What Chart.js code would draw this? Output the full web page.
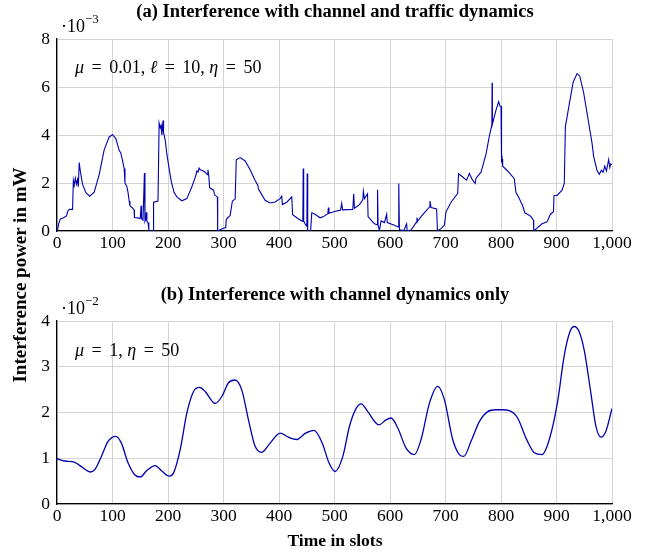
<!DOCTYPE html>
<html>
<head>
<meta charset="utf-8">
<script src="https://cdn.jsdelivr.net/npm/chart.js@4.4.1/dist/chart.umd.min.js"></script>
<style>
  html, body { margin: 0; padding: 0; background: #fff; }
  #page { position: relative; width: 655px; height: 557px; overflow: hidden; font-family: "Liberation Serif", "DejaVu Serif", serif; color: #000; }
  canvas { position: absolute; left: 0; }
  .txt { position: absolute; white-space: nowrap; }
  .title { font-weight: bold; font-size: 18.5px; left: 0; width: 670px; text-align: center; }
  .mult { font-size: 18px; }
  .mult sup { font-size: 13px; position: relative; top: -2px; }
  .note { font-size: 18px; }
  .note i { font-style: italic; }
  .note .eq { padding: 0 7.5px; }
</style>
</head>
<body>
<div id="page">
  <canvas id="topChart" width="655" height="262" style="top:0"></canvas>
  <canvas id="bottomChart" width="655" height="255" style="top:280px"></canvas>

  <div class="txt title" style="top:1px">(a) Interference with channel and traffic dynamics</div>
  <div class="txt title" style="top:284px">(b) Interference with channel dynamics only</div>
  <div class="txt title" style="top:530px; font-size:17.5px">Time in slots</div>
  <div class="txt title" style="left:-315px; top:264px; width:670px; transform:rotate(-90deg); font-size:19px">Interference power in mW</div>

  <div class="txt mult" style="left:61px; top:13px">·10<sup>−3</sup></div>
  <div class="txt mult" style="left:61px; top:295px">·10<sup>−2</sup></div>

  <div class="txt note" style="left:75px; top:57px"><i>μ</i><span class="eq">=</span>0.01, <i>ℓ</i><span class="eq">=</span>10, <i>η</i><span class="eq">=</span>50</div>
  <div class="txt note" style="left:75px; top:340px"><i>μ</i><span class="eq">=</span>1, <i>η</i><span class="eq">=</span>50</div>
</div>

<script>
// (a) channel + traffic: slot index and interference power (x 1e-3 mW)
const slotsA = [
  0, 1, 3, 6, 12, 17, 20, 23, 28, 29.5, 31, 33, 35, 37, 38.5, 40, 42, 46, 52, 59,
  67, 76, 85, 94, 100, 106, 112, 115, 118, 121, 122.5, 126, 128, 130, 131.5, 135, 139, 139.5, 150, 151.5,
  152.5, 155, 157.5, 158.5, 160, 161, 162, 164, 165.5, 167, 173, 174, 182, 184, 186, 187.5, 189, 191, 192, 195,
  198, 202, 206, 211, 216, 225, 234, 243, 250, 252, 254, 256, 258, 262, 267, 271, 272, 273.5, 275, 282,
  284, 289, 289.5, 294, 299, 304, 305, 312, 316, 321, 323, 330, 339, 348, 357, 362, 363, 366, 375, 384,
  393, 402, 405, 406, 414, 423, 424.5, 432, 441, 443, 443.6, 444.5, 448, 450.2, 450.8, 451.5, 452, 457, 459, 465,
  474, 480, 488, 489, 490, 505, 511, 513, 514.5, 533, 534.6, 536, 545, 551, 552, 554, 559.5, 560.5, 566, 572,
  577, 577.6, 578.5, 581, 584, 590, 594, 595, 608, 615, 615.8, 617, 625, 630, 631, 638, 647, 648.5, 649.5, 656,
  665, 671, 672, 674, 684, 685.5, 692, 698, 701, 710, 722, 723.5, 731, 738, 743, 748, 753.5, 755, 764, 773,
  779, 783.5, 784, 784.5, 791, 795.7, 798, 800, 801, 802, 803, 812, 824, 827, 833, 836, 839, 843, 848, 854,
  858.5, 859, 865, 874, 883, 889, 894.5, 895.5, 901, 910, 914, 916, 922, 930, 937, 942, 949, 958, 964, 967,
  973, 977, 981, 984, 987, 990, 994, 996, 998, 1000
];
const powerA = [
  0.0, 0.05, 0.3, 0.5, 0.55, 0.63, 0.85, 0.9, 0.9, 2.1, 1.9, 2.2, 1.95, 2.15, 1.85, 2.85, 2.5, 1.95, 1.6, 1.45,
  1.62, 2.35, 3.38, 3.92, 4.01, 3.85, 3.36, 3.25, 2.94, 2.6, 2.0, 1.85, 1.6, 1.25, 1.05, 0.98, 0.88, 0.56, 0.53, 1.05,
  0.5, 0.45, 2.42, 0.4, 0.5, 0.78, 0.4, 0.35, 0.05, 0.0, 0.0, 1.2, 1.25, 4.5, 4.3, 4.4, 4.0, 4.6, 4.1, 3.78,
  3.2, 2.6, 2.05, 1.6, 1.42, 1.26, 1.35, 1.84, 2.3, 2.5, 2.45, 2.62, 2.55, 2.52, 2.45, 2.35, 2.55, 2.3, 1.8, 1.7,
  1.5, 1.42, 0.0, 0.05, 0.1, 0.14, 0.49, 0.65, 1.25, 1.33, 2.97, 3.06, 2.92, 2.55, 2.1, 1.9, 1.75, 1.63, 1.28, 1.17,
  1.21, 1.35, 1.45, 1.1, 1.2, 1.42, 0.68, 0.55, 0.42, 0.4, 2.6, 0.42, 0.25, 0.2, 2.4, 0.05, 0.0, 0.0, 0.76, 0.7,
  0.55, 0.6, 0.72, 0.98, 0.74, 0.84, 0.87, 1.15, 0.88, 0.9, 1.55, 0.95, 1.1, 1.3, 1.66, 1.35, 1.55, 0.6, 0.45, 0.3,
  0.26, 1.72, 0.22, 0.04, 0.42, 0.35, 0.7, 0.35, 0.24, 0.17, 1.98, 0.05, 0.02, 0.3, 0.0, 0.04, 0.35, 0.56, 0.4, 0.6,
  0.84, 1.0, 1.25, 0.98, 0.92, 0.0, 0.1, 0.25, 0.8, 1.2, 1.57, 2.38, 2.25, 2.12, 2.4, 2.15, 1.98, 2.2, 2.45, 3.2,
  3.95, 4.42, 6.18, 4.45, 5.04, 5.39, 5.21, 5.2, 2.85, 3.0, 2.7, 2.5, 2.18, 1.6, 1.35, 1.2, 1.06, 0.75, 0.7, 0.6,
  0.45, 0.0, 0.12, 0.3, 0.38, 0.7, 0.8, 1.48, 1.48, 1.7, 1.98, 4.35, 5.15, 6.2, 6.56, 6.45, 5.75, 4.5, 3.66, 3.1,
  2.53, 2.36, 2.53, 2.45, 2.7, 2.5, 2.98, 2.65, 2.8, 2.75
];

// (b) channel only: slot index and interference power (x 1e-2 mW)
const slotsB = [
  0, 14, 32, 47, 60, 68, 80, 92, 106, 116, 128, 140, 150, 161, 177, 189, 202, 210, 222, 234,
  246, 257, 267, 285, 297, 309, 321, 333, 345, 357, 369, 384, 402, 417, 432, 448, 463, 478, 490, 501,
  515, 527, 539, 548, 560, 580, 593, 602, 614, 629, 644, 656, 671, 686, 698, 713, 725, 733, 746, 761,
  776, 791, 803, 815, 830, 845, 860, 874, 887, 902, 914, 924, 932, 941, 950, 962, 971, 980, 989, 1000
];
const powerB = [
  0.99, 0.94, 0.91, 0.79, 0.70, 0.75, 1.04, 1.37, 1.48, 1.33, 0.90, 0.64, 0.59, 0.72, 0.84, 0.72, 0.61, 0.68, 1.19, 1.99,
  2.46, 2.55, 2.46, 2.20, 2.35, 2.65, 2.71, 2.49, 1.84, 1.26, 1.13, 1.33, 1.55, 1.46, 1.41, 1.55, 1.61, 1.33, 0.90, 0.71,
  1.04, 1.70, 2.09, 2.19, 2.02, 1.73, 1.84, 1.88, 1.66, 1.22, 1.08, 1.41, 2.20, 2.57, 2.28, 1.41, 1.08, 1.04, 1.37, 1.80,
  2.02, 2.06, 2.06, 2.04, 1.88, 1.44, 1.12, 1.08, 1.41, 2.24, 3.25, 3.76, 3.88, 3.76, 3.36, 2.42, 1.70, 1.46, 1.59, 2.09
];

const xTicks = [0, 100, 200, 300, 400, 500, 600, 700, 800, 900, 1000];
const yTicksA = [0, 2, 4, 6, 8];
const yTicksB = [0, 1, 2, 3, 4];

const lineColor = "#0000b0";
const gridColor = "#d4d4d4";
const tickFont = { family: "Liberation Serif", size: 17.5 };

function toPoints(xs, ys) {
  return xs.map((x, i) => ({ x: x, y: ys[i] }));
}

function makeChart(canvasId, xs, ys, yTicks, padTop, smooth) {
  const yMax = yTicks[yTicks.length - 1];
  return new Chart(document.getElementById(canvasId), {
    type: "line",
    data: {
      datasets: [
        {
          data: toPoints(xs, ys),
          borderColor: lineColor,
          borderWidth: smooth ? 1.3 : 1.1,
          pointRadius: 0,
          fill: false,
          tension: smooth ? 0.4 : 0,
          cubicInterpolationMode: smooth ? "monotone" : "default",
        },
      ],
    },
    options: {
      responsive: false,
      animation: false,
      layout: { padding: { top: padTop, left: 0, right: 43, bottom: 0 } },
      plugins: { legend: { display: false }, tooltip: { enabled: false } },
      scales: {
        x: {
          type: "linear",
          min: 0,
          max: 1000,
          afterBuildTicks: (scale) => {
            scale.ticks = xTicks.map((v) => ({ value: v }));
          },
          afterFit: (scale) => {
            scale.height = 31;
          },
          ticks: {
            color: "#000",
            font: tickFont,
            padding: 2,
            maxRotation: 0,
            autoSkip: false,
            callback: (v) => v.toLocaleString("en-US"),
          },
          grid: { color: gridColor, lineWidth: 1, drawTicks: false },
          border: { color: "#000", width: 1.3 },
        },
        y: {
          min: 0,
          max: yMax,
          afterBuildTicks: (scale) => {
            scale.ticks = yTicks.map((v) => ({ value: v }));
          },
          afterFit: (scale) => {
            scale.width = 57;
          },
          ticks: { color: "#000", font: tickFont, padding: 7 },
          grid: { color: gridColor, lineWidth: 1, drawTicks: false },
          border: { color: "#000", width: 1.3 },
        },
      },
    },
  });
}

makeChart("topChart", slotsA, powerA, yTicksA, 39, false);
makeChart("bottomChart", slotsB, powerB, yTicksB, 41, true);
</script>
</body>
</html>
